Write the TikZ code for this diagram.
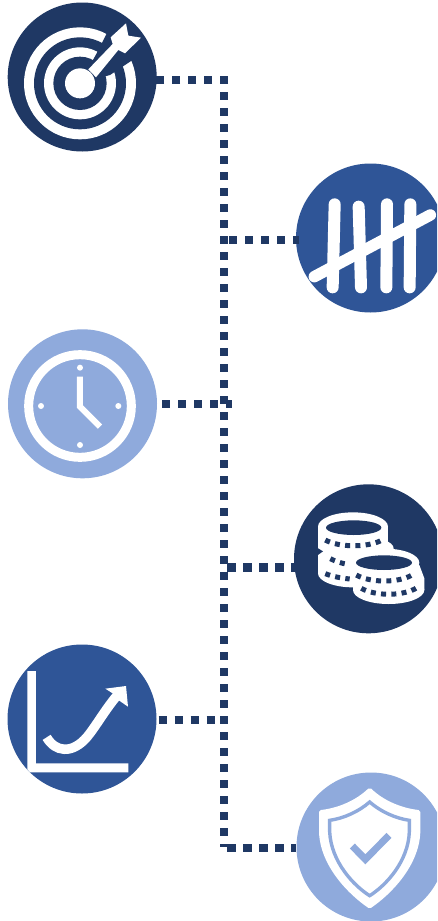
\documentclass[tikz,border=0pt]{standalone}
\definecolor{darkblue}{HTML}{1F3864}
\definecolor{midblue}{HTML}{2F5597}
\definecolor{lightblue}{HTML}{8FAADC}
\tikzset{
  badge/.style={circle,minimum size=149pt,inner sep=0pt,draw=none},
  dotline/.style={draw=darkblue,line width=8.4pt,dash pattern=on 8.4pt off 7.6pt,line cap=butt},
  icon/.style={line width=#1,draw=white,line cap=round},
  coindash/.style={draw=darkblue,line width=5pt,dash pattern=on 5pt off 5.3pt,line cap=butt}
}
\begin{document}
\begin{tikzpicture}[x=1pt,y=-1pt]
\clip (0,0) rectangle (437,921);
\fill[white] (0,0) rectangle (437,921);
% badges
\node[badge,fill=darkblue] (target) at (82.2,77) {};
\node[badge,fill=midblue] (tally) at (370.5,238) {};
\node[badge,fill=lightblue] (clock) at (82.5,403.8) {};
\node[badge,fill=darkblue] (coins) at (368.5,558.8) {};
\node[badge,fill=midblue] (chart) at (82,719) {};
\node[badge,fill=lightblue] (shield) at (371,847) {};
% junctions
\coordinate (trunkTop) at (224,76);
\coordinate (trunkEnd) at (224,847);
\coordinate (j1) at (228,80);   \coordinate (e1) at (156,80);
\coordinate (j2) at (229,240);  \coordinate (e2) at (299,240);
\coordinate (j3) at (232,404);  \coordinate (e3) at (162,404);
\coordinate (j4) at (227.3,567.3); \coordinate (e4) at (296,567.3);
\coordinate (j5) at (228,720);  \coordinate (e5) at (158.7,720);
\coordinate (j6) at (227.3,847.7); \coordinate (e6) at (296,847.7);
% connectors
\draw[dotline] (trunkTop) -- (trunkEnd);
\draw[dotline] (j1) -- (e1);
\draw[dotline] (j2) -- (e2);
\draw[dotline] (e3) -- (j3);
\draw[dotline] (j4) -- (e4);
\draw[dotline] (e5) -- (j5);
\draw[dotline] (j6) -- (e6);
% target icon
\begin{scope}[scale=1/3]
\fill[white] (240,250) circle (168);
\fill[darkblue] (240,250) circle (138);
\fill[white] (240,250) circle (108);
\fill[darkblue] (240,250) circle (80);
\fill[darkblue] (240,250) -- (290,160) -- (338,65) -- (390,85) -- (430,130) -- (420,165) -- (330,225) -- cycle;
\fill[white] (240,250) circle (45);
\fill[white] (265,208) -- (338,132) -- (332,112) -- (378,70) -- (385,107) -- (423,113) -- (375,160) -- (355,150) -- (288,232) -- cycle;
\end{scope}
% tally icon
\begin{scope}[shift={(217,160)},scale=1/3]
\draw[icon=12pt] (353,133) -- (347,382);
\draw[icon=12pt] (425,140) -- (432,382);
\draw[icon=12pt] (510,133) -- (508,382);
\draw[icon=12pt] (580,133) -- (578,382);
\draw[icon=11.5pt] (292,350) -- (640,165);
\end{scope}
% clock icon
\begin{scope}[shift={(0,325)},scale=1/3]
\draw[white,line width=9pt] (240,243) circle (154);
\foreach \px/\py in {240/128,355/243,240/360,123/243}
  \fill[white] (\px,\py) circle (9);
\draw[white,line width=6pt,miter limit=10] (240,155) -- (240,245) -- (300,305);
\end{scope}
% coins icon
\begin{scope}[shift={(217,480)},scale=1/3]
\fill[white] (408,140) ellipse [x radius=105,y radius=43];
\fill[white] (303,140) rectangle (513,205);
\fill[white] (418,205) ellipse [x radius=112,y radius=38];
\fill[white] (303,205) rectangle (500,280);
\fill[white] (408,280) ellipse [x radius=105,y radius=42];
\fill[darkblue] (300,203) -- (318,214) -- (300,227) -- cycle;
\fill[darkblue] (410,143) ellipse [x radius=83,y radius=22];
\draw[coindash] (325,180) .. controls (365,203) and (455,203) .. (495,180);
\draw[coindash] (340,236) .. controls (355,244) and (370,249) .. (392,253);
\draw[coindash] (325,281) .. controls (345,289) and (370,294) .. (398,297);
\fill[white] (505,248) ellipse [x radius=102,y radius=42];
\fill[white] (403,248) rectangle (607,300);
\fill[white] (607,255) -- (622,295) -- (622,330) -- (408,330) -- (408,290) -- cycle;
\fill[white] (515,330) ellipse [x radius=107,y radius=42];
\fill[darkblue] (501,248) ellipse [x radius=84,y radius=22];
\draw[coindash] (418,285) .. controls (460,309) and (545,309) .. (585,285);
\draw[coindash] (433,325) .. controls (475,349) and (560,349) .. (600,323);
\end{scope}
% chart icon
\begin{scope}[shift={(0,640)},scale=1/3]
\fill[white] (82,93) -- (108,93) -- (108,370) -- (385,370) -- (385,397) -- (90,397) -- (82,388) -- cycle;
\draw[white,line width=9.5pt,line cap=butt] (140,292) .. controls (165,335) and (215,345) .. (262,290) .. controls (290,255) and (315,210) .. (350,168);
\fill[white] (378,138) -- (316,146) -- (338,160) -- (358,182) -- (384,200) -- cycle;
\end{scope}
% shield icon
\begin{scope}[shift={(217,765)},scale=1/3]
\path[fill=white,draw=white,line width=4pt,line join=round]
  (458,75) .. controls (420,112) and (365,135) .. (312,141)
  -- (312,200) .. controls (315,300) and (400,385) .. (458,424)
  .. controls (516,385) and (601,300) .. (604,200) -- (604,141)
  .. controls (551,135) and (496,112) .. (458,75) -- cycle;
\draw[lightblue,line width=3.4pt,line join=miter]
  (458,111) .. controls (425,140) and (380,160) .. (338,166)
  -- (338,200) .. controls (342,290) and (410,362) .. (458,392)
  .. controls (506,362) and (574,290) .. (577,200) -- (577,166)
  .. controls (536,160) and (491,140) .. (458,111) -- cycle;
\draw[lightblue,line width=7pt] (406,243) -- (445,283) -- (516,211);
\end{scope}
\end{tikzpicture}
\end{document}
